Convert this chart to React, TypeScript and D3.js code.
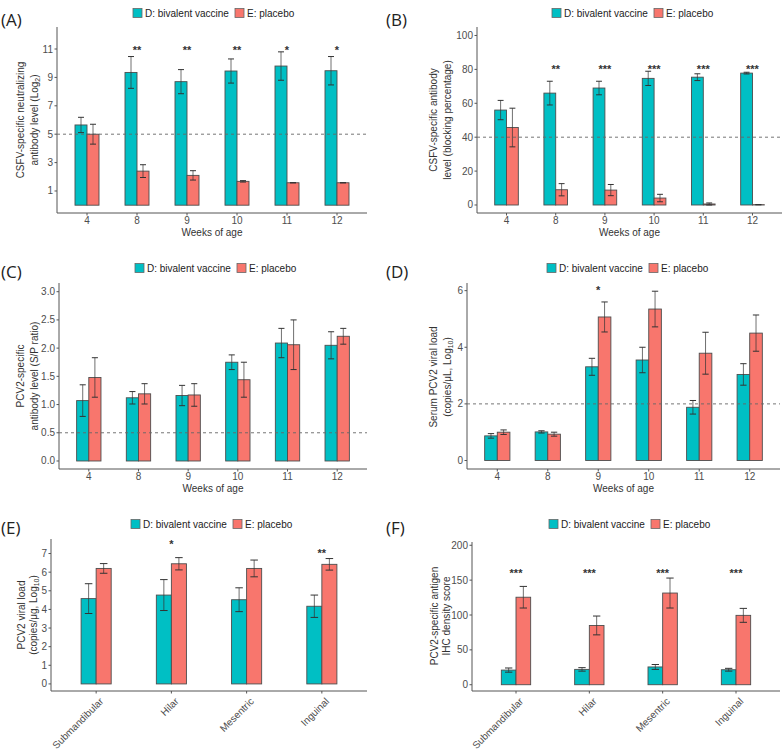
import React from 'react';
import * as d3 from 'd3';

const weeks = ['4', '8', '9', '10', '11', '12'];
const nodes = ['Submandibular', 'Hilar', 'Mesentric', 'Inguinal'];
const seriesNames = ['D: bivalent vaccine', 'E: placebo'];

// (A) CSFV neutralizing antibody
const aVaccine = [5.65, 9.35, 8.7, 9.45, 9.8, 9.47];
const aVaccineSd = [0.54, 1.12, 0.85, 0.85, 1.0, 1.0];
const aPlacebo = [5.0, 2.4, 2.1, 1.68, 1.58, 1.58];
const aPlaceboSd = [0.7, 0.45, 0.33, 0.05, 0, 0];
const aStars = ['', '**', '**', '**', '*', '*'];
const aTicks = [1, 3, 5, 7, 9, 11];

// (B) CSFV antibody blocking percentage
const bVaccine = [56, 66, 69, 74.7, 75.4, 77.8];
const bVaccineSd = [5.7, 7, 4, 4.2, 2, 0.5];
const bPlacebo = [45.7, 9, 8.8, 4.1, 0.6, 0.2];
const bPlaceboSd = [11.4, 3.6, 3.3, 2.2, 0.6, 0];
const bStars = ['', '**', '***', '***', '***', '***'];
const bTicks = [0, 20, 40, 60, 80, 100];

// (C) PCV2 antibody S/P ratio
const cVaccine = [1.07, 1.12, 1.16, 1.75, 2.09, 2.05];
const cVaccineSd = [0.28, 0.11, 0.18, 0.13, 0.26, 0.24];
const cPlacebo = [1.48, 1.19, 1.17, 1.44, 2.06, 2.21];
const cPlaceboSd = [0.35, 0.18, 0.2, 0.31, 0.44, 0.14];
const cTicks = [0, 0.5, 1, 1.5, 2, 2.5, 3];

// (D) serum PCV2 viral load
const dVaccine = [0.87, 1.01, 3.31, 3.55, 1.88, 3.04];
const dVaccineSd = [0.08, 0.04, 0.3, 0.45, 0.24, 0.38];
const dPlacebo = [1.0, 0.93, 5.07, 5.35, 3.79, 4.5];
const dPlaceboSd = [0.08, 0.07, 0.53, 0.63, 0.74, 0.64];
const dStars = ['', '', '*', '', '', ''];
const dTicks = [0, 2, 4, 6];

// (E) PCV2 viral load in lymph nodes
const eVaccine = [4.58, 4.77, 4.52, 4.17];
const eVaccineSd = [0.8, 0.83, 0.64, 0.6];
const ePlacebo = [6.2, 6.45, 6.2, 6.42];
const ePlaceboSd = [0.26, 0.33, 0.45, 0.31];
const eStars = ['', '*', '', '**'];
const eStarLevel = [0, 7.63, 0, 7.14];
const eTicks = [0, 1, 2, 3, 4, 5, 6, 7];

// (F) PCV2 antigen IHC density score
const fVaccine = [21, 22, 25.5, 21.5];
const fVaccineSd = [3, 2.5, 3.5, 2];
const fPlacebo = [125.5, 85, 131.5, 99.5];
const fPlaceboSd = [15.5, 13.5, 21.5, 10];
const fStars = ['***', '***', '***', '***'];
const fTicks = [0, 50, 100, 150, 200];

const TEAL = '#00BFC4';
const RED = '#F8766D';
const FONT = '"Liberation Sans", Arial, sans-serif';

const panels = [
  {
    tag: '(A)', tagX: 1, tagY: 26, cats: weeks, vac: aVaccine, vacSd: aVaccineSd, pla: aPlacebo, plaSd: aPlaceboSd,
    stars: aStars, starLevel: weeks.map(() => 11.1), ticks: aTicks, fmt: (d) => String(d),
    left: 57, right: 367, top: 27, bottom: 213, yDomain: [-0.55, 12.55], cut: 5, barFrac: 0.24,
    legendX: 133, legendY: 13, titleX: [24, 38], titleY: 120,
    title: [['CSFV-specific neutralizing'], ['antibody level (Log', '2', ')']], xTitle: 'Weeks of age', rotate: false,
  },
  {
    tag: '(B)', tagX: 386, tagY: 26, cats: weeks, vac: bVaccine, vacSd: bVaccineSd, pla: bPlacebo, plaSd: bPlaceboSd,
    stars: bStars, starLevel: weeks.map(() => 81.6), ticks: bTicks, fmt: (d) => String(d),
    left: 477, right: 782, top: 27, bottom: 213, yDomain: [-4.72, 105], cut: 40, barFrac: 0.24,
    legendX: 552, legendY: 13, titleX: [437, 451], titleY: 120,
    title: [['CSFV-specific antibody'], ['level (blocking percentage)']], xTitle: 'Weeks of age', rotate: false,
  },
  {
    tag: '(C)', tagX: 1, tagY: 278, cats: weeks, vac: cVaccine, vacSd: cVaccineSd, pla: cPlacebo, plaSd: cPlaceboSd,
    stars: null, starLevel: null, ticks: cTicks, fmt: d3.format('.1f'),
    left: 59, right: 367, top: 283, bottom: 469, yDomain: [-0.142, 3.154], cut: 0.5, barFrac: 0.245,
    legendX: 135, legendY: 268, titleX: [24, 38], titleY: 376,
    title: [['PCV2-specific'], ['antibody level (S/P ratio)']], xTitle: 'Weeks of age', rotate: false,
  },
  {
    tag: '(D)', tagX: 386, tagY: 278, cats: weeks, vac: dVaccine, vacSd: dVaccineSd, pla: dPlacebo, plaSd: dPlaceboSd,
    stars: dStars, starLevel: weeks.map(() => 6.1), ticks: dTicks, fmt: (d) => String(d),
    left: 467, right: 780, top: 283, bottom: 469, yDomain: [-0.3, 6.27], cut: 2, barFrac: 0.25,
    legendX: 547, legendY: 268, titleX: [437, 451], titleY: 377,
    title: [['Serum PCV2 viral load'], ['(copies/\u03bcL, Log', '10', ')']], xTitle: 'Weeks of age', rotate: false,
  },
  {
    tag: '(E)', tagX: 1, tagY: 534, cats: nodes, vac: eVaccine, vacSd: eVaccineSd, pla: ePlacebo, plaSd: ePlaceboSd,
    stars: eStars, starLevel: eStarLevel, ticks: eTicks, fmt: (d) => String(d),
    left: 51, right: 367, top: 539, bottom: 691, yDomain: [-0.38, 7.78], cut: null, barFrac: 0.2,
    legendX: 131, legendY: 524, titleX: [25, 37], titleY: 615,
    title: [['PCV2 viral load'], ['(copies/\u03bcg, Log', '10', ')']], xTitle: null, rotate: true,
  },
  {
    tag: '(F)', tagX: 386, tagY: 534, cats: nodes, vac: fVaccine, vacSd: fVaccineSd, pla: fPlacebo, plaSd: fPlaceboSd,
    stars: fStars, starLevel: nodes.map(() => 162.8), ticks: fTicks, fmt: (d) => String(d),
    left: 472, right: 780, top: 542, bottom: 691, yDomain: [-9, 204.7], cut: null, barFrac: 0.2,
    legendX: 549, legendY: 524, titleX: [438, 450], titleY: 616,
    title: [['PCV2-specific antigen'], ['IHC density score']], xTitle: null, rotate: true,
  },
];

function TitleLine({ parts }) {
  return (
    <>
      {parts.map((t, i) =>
        i === 1 ? (
          <tspan key={i} fontSize="7" dy="2">{t}</tspan>
        ) : (
          <tspan key={i} dy={i === 2 ? -2 : 0}>{t}</tspan>
        )
      )}
    </>
  );
}

function Panel({ p }) {
  const x = d3.scaleBand().domain(p.cats).range([p.left, p.right]).paddingInner(0).paddingOuter(0.1);
  const y = d3.scaleLinear().domain(p.yDomain).range([p.bottom, p.top]);
  const bw = x.step() * p.barFrac;
  const cap = bw * 0.25;
  const center = (c) => x(c) + x.bandwidth() / 2;
  const series = [
    { vals: p.vac, sd: p.vacSd, color: TEAL, off: -bw },
    { vals: p.pla, sd: p.plaSd, color: RED, off: 0 },
  ];
  return (
    <g fontFamily={FONT}>
      <text x={p.tagX} y={p.tagY} fontFamily='"Open Sans", sans-serif' fontSize="17" fill="#222">{p.tag}</text>
      {/* legend */}
      {seriesNames.map((n, i) => (
        <g key={n} transform={`translate(${p.legendX + i * 102},${p.legendY})`}>
          <rect x={0} y={-4.5} width={9} height={9} fill={i === 0 ? TEAL : RED} stroke="#666" strokeWidth={0.8} />
          <text x={12} y={3.6} fontSize="10" fill="#222">{n}</text>
        </g>
      ))}
      {/* axes */}
      <line x1={p.left} x2={p.left} y1={p.top} y2={p.bottom} stroke="#555" strokeWidth={1} />
      <line x1={p.left} x2={p.right} y1={p.bottom} y2={p.bottom} stroke="#555" strokeWidth={1} />
      {p.ticks.map((t) => (
        <g key={t}>
          <line x1={p.left - 2.5} x2={p.left} y1={y(t)} y2={y(t)} stroke="#555" />
          <text x={p.left - 4} y={y(t) + 3.5} fontSize="10" textAnchor="end" fill="#4d4d4d">{p.fmt(t)}</text>
        </g>
      ))}
      {p.cats.map((c) => (
        <g key={c}>
          <line x1={center(c)} x2={center(c)} y1={p.bottom} y2={p.bottom + 2.5} stroke="#555" />
          {p.rotate ? (
            <text transform={`translate(${center(c) + 3},${p.bottom + 6}) rotate(-45)`} fontSize="10" textAnchor="end"
              dy="0.7em" fill="#4d4d4d">{c}</text>
          ) : (
            <text x={center(c)} y={p.bottom + 11} fontSize="10" textAnchor="middle" fill="#4d4d4d">{c}</text>
          )}
        </g>
      ))}
      {p.xTitle && (
        <text x={(p.left + p.right) / 2} y={p.bottom + 22.5} fontSize="10" textAnchor="middle" fill="#333">{p.xTitle}</text>
      )}
      {p.title.map((parts, i) => (
        <text key={i} transform={`translate(${p.titleX[i]},${p.titleY}) rotate(-90)`} fontSize="10" textAnchor="middle" fill="#333">
          <TitleLine parts={parts} />
        </text>
      ))}
      {/* bars */}
      {series.map((s, si) =>
        p.cats.map((c, i) => (
          <rect key={`${si}-${c}`} x={center(c) + s.off} width={bw} y={y(s.vals[i])} height={y(0) - y(s.vals[i])}
            fill={s.color} stroke="#4d4d4d" strokeWidth={0.9} />
        ))
      )}
      {p.cut !== null && (
        <line x1={p.left} x2={p.right} y1={y(p.cut)} y2={y(p.cut)} stroke="#666" strokeDasharray="3,3" strokeWidth={0.9} />
      )}
      {series.map((s, si) =>
        p.cats.map((c, i) => {
          const cx = center(c) + s.off + bw / 2;
          const hi = y(s.vals[i] + s.sd[i]);
          const lo = y(s.vals[i] - s.sd[i]);
          return (
            <g key={`e${si}-${c}`} stroke="#333" strokeWidth={1}>
              <line x1={cx} x2={cx} y1={hi} y2={lo} strokeOpacity={0.7} />
              <line x1={cx - cap} x2={cx + cap} y1={hi} y2={hi} />
              <line x1={cx - cap} x2={cx + cap} y1={lo} y2={lo} />
            </g>
          );
        })
      )}
      {p.stars && p.cats.map((c, i) => p.stars[i] ? (
        <text key={`s${c}`} x={center(c)} y={y(p.starLevel[i]) + 6} fontSize="11" fontWeight="bold" textAnchor="middle" fill="#333">
          {p.stars[i]}
        </text>
      ) : null)}
    </g>
  );
}

export default function App() {
  return (
    <svg width={783} height={750} style={{ position: 'absolute', left: 0, top: 0, background: '#fff' }}>
      <rect width={783} height={750} fill="#fff" />
      {panels.map((p) => (
        <Panel key={p.tag} p={p} />
      ))}
    </svg>
  );
}
